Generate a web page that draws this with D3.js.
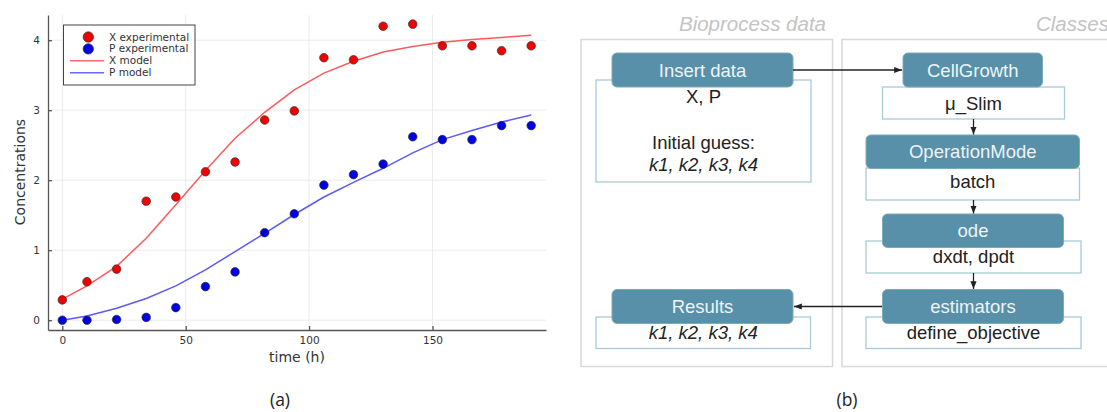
<!DOCTYPE html>
<html>
<head>
<meta charset="utf-8">
<script src="https://cdn.jsdelivr.net/npm/d3@7"></script>
<style>
  body { margin: 0; background: #fff; }
  svg text { font-family: "DejaVu Sans", sans-serif; }
  .axis path, .axis line { stroke: #555; stroke-width: 1.3; }
  .axis text { font-size: 10.5px; fill: #333; font-family: "DejaVu Sans", sans-serif; }
  .diag text { font-family: "Liberation Sans", Arial, sans-serif; font-size: 18.5px; }
</style>
</head>
<body>
<div class="root"></div>
<script>
// fitted data
const time = [0, 10, 22, 34, 46, 58, 70, 82, 94, 106, 118, 130, 142, 154, 166, 178, 190];
const xExp = [0.29, 0.55, 0.73, 1.70, 1.76, 2.12, 2.26, 2.86, 2.99, 3.75, 3.72, 4.20, 4.23, 3.92, 3.92, 3.85, 3.92];
const pExp = [0.0, 0.0, 0.01, 0.04, 0.18, 0.48, 0.69, 1.25, 1.52, 1.93, 2.08, 2.23, 2.62, 2.58, 2.58, 2.78, 2.78];
const xModel = [0.30, 0.49, 0.77, 1.17, 1.65, 2.14, 2.60, 2.97, 3.29, 3.53, 3.70, 3.83, 3.91, 3.97, 4.01, 4.04, 4.07];
const pModel = [0.0, 0.06, 0.17, 0.31, 0.49, 0.72, 0.98, 1.24, 1.51, 1.76, 1.97, 2.17, 2.39, 2.58, 2.71, 2.83, 2.93];
const xTicks = [0, 50, 100, 150];
const yTicks = [0, 1, 2, 3, 4];
const legendLabels = ["X experimental", "P experimental", "X model", "P model"];

// diagram text
const headers = ["Insert data", "Results", "CellGrowth", "OperationMode", "ode", "estimators"];
const subText = [["X, P", "", "Initial guess:", "k1, k2, k3, k4"], ["k1, k2, k3, k4"], ["μ_Slim"], ["batch"], ["dxdt, dpdt"], ["define_objective"]];
const italicLines = ["k1, k2, k3, k4"];

const w = 1107;
const h = 412;
const svg = d3.select(".root")
              .append("svg")
              .attr("width", w)
              .attr("height", h);

// ---------- (a) chart ----------
const xScale = d3.scaleLinear().domain([-5.8, 196]).range([48, 546]);
const yScale = d3.scaleLinear().domain([-0.14, 4.36]).range([330, 15]);

// grid
svg.append("g").selectAll("line")
   .data(xTicks).enter().append("line")
   .attr("x1", d => xScale(d)).attr("x2", d => xScale(d))
   .attr("y1", 15).attr("y2", 330)
   .attr("stroke", "#ececec").attr("stroke-width", 1);
svg.append("g").selectAll("line")
   .data(yTicks).enter().append("line")
   .attr("x1", 48).attr("x2", 546)
   .attr("y1", d => yScale(d)).attr("y2", d => yScale(d))
   .attr("stroke", "#ececec").attr("stroke-width", 1);

svg.append("g")
   .attr("class", "axis")
   .attr("transform", "translate(0,330)")
   .call(d3.axisBottom(xScale).tickValues(xTicks).tickFormat(d3.format("d"))
           .tickSize(-4).tickSizeOuter(0).tickPadding(7));

svg.append("g")
   .attr("class", "axis")
   .attr("transform", "translate(48,0)")
   .call(d3.axisLeft(yScale).tickValues(yTicks).tickFormat(d3.format("d"))
           .tickSize(-4).tickSizeOuter(0).tickPadding(8));

// model lines
const line = (vals) => d3.line()
  .x((d, i) => xScale(time[i]))
  .y(d => yScale(d))(vals);

svg.append("path").attr("d", line(xModel))
   .attr("fill", "none").attr("stroke", "#ff5a5a").attr("stroke-width", 1.5);
svg.append("path").attr("d", line(pModel))
   .attr("fill", "none").attr("stroke", "#5a5aff").attr("stroke-width", 1.5);

// experimental points
function points(vals, color) {
  svg.append("g").selectAll("circle")
     .data(vals).enter().append("circle")
     .attr("cx", (d, i) => xScale(time[i]))
     .attr("cy", d => yScale(d))
     .attr("r", 4.3)
     .attr("fill", color)
     .attr("stroke", "#333")
     .attr("stroke-width", 0.7);
}
points(xExp, "#f00000");
points(pExp, "#0000e6");

// legend
const legend = svg.append("g");
legend.append("rect")
      .attr("x", 63.5).attr("y", 25).attr("width", 131.5).attr("height", 60)
      .attr("fill", "#fff").attr("stroke", "#444").attr("stroke-width", 1);
const legendColors = ["#f00000", "#0000e6", "#ff6a6a", "#6a6aff"];
legendLabels.forEach((lab, i) => {
  const by = 40.5 + i * 11.9;
  if (i < 2) {
    legend.append("circle").attr("cx", 88.3).attr("cy", by - 3.5).attr("r", 5.2)
          .attr("fill", legendColors[i]).attr("stroke", "#333").attr("stroke-width", 0.7);
  } else {
    legend.append("line").attr("x1", 70).attr("x2", 104).attr("y1", by - 3.5).attr("y2", by - 3.5)
          .attr("stroke", legendColors[i]).attr("stroke-width", 1.5);
  }
  legend.append("text").attr("x", 109).attr("y", by)
        .style("font-size", "10.5px").style("fill", "#333").text(lab);
});

// axis labels
svg.append("text")
   .attr("text-anchor", "middle")
   .attr("transform", "translate(24.5,172)rotate(-90)")
   .style("font-size", "14px").style("fill", "#333")
   .text("Concentrations");
svg.append("text")
   .attr("x", 297).attr("y", 362)
   .attr("text-anchor", "middle")
   .style("font-size", "14px").style("fill", "#333")
   .text("time (h)");

// captions
svg.append("text").attr("x", 280).attr("y", 406).attr("text-anchor", "middle")
   .style("font-family", "'Open Sans', sans-serif").style("font-size", "17.5px").style("fill", "#222").text("(a)");
svg.append("text").attr("x", 847).attr("y", 406).attr("text-anchor", "middle")
   .style("font-family", "'Open Sans', sans-serif").style("font-size", "17.5px").style("fill", "#222").text("(b)");

// ---------- (b) diagram ----------
const diag = svg.append("g").attr("class", "diag");

diag.append("defs").append("marker")
    .attr("id", "arrow").attr("viewBox", "0 0 10 10")
    .attr("refX", 10).attr("refY", 5)
    .attr("markerWidth", 6).attr("markerHeight", 6)
    .attr("orient", "auto")
    .append("path").attr("d", "M0,1L10,5L0,9Z").attr("fill", "#222");

// panels
diag.append("rect").attr("x", 581).attr("y", 39.5).attr("width", 251.5).attr("height", 327)
    .attr("fill", "none").attr("stroke", "#d8d8d8").attr("stroke-width", 1.5);
diag.append("rect").attr("x", 842).attr("y", 39.5).attr("width", 300).attr("height", 327)
    .attr("fill", "none").attr("stroke", "#d8d8d8").attr("stroke-width", 1.5);
diag.append("text").attr("x", 826).attr("y", 31).attr("text-anchor", "end")
    .style("font-size", "20.5px").style("font-style", "italic").style("fill", "#c4c4c4").text("Bioprocess data");
diag.append("text").attr("x", 1036).attr("y", 31)
    .style("font-size", "20.5px").style("font-style", "italic").style("fill", "#c4c4c4").text("Classes");

// node layout: header box, sub box, baselines
const layout = [
  {hx: 612, hy: 53, hw: 181, hh: 34, hb: 76.7, sx: 596, sy: 80, sw: 215, sh: 102, sb: [103, 0, 148.5, 171]},
  {hx: 612, hy: 289.5, hw: 181, hh: 34, hb: 313, sx: 596, sy: 317, sw: 214.5, sh: 31.5, sb: [339]},
  {hx: 903, hy: 53, hw: 139.5, hh: 34, hb: 76.7, sx: 882.5, sy: 87, sw: 182, sh: 32, sb: [110]},
  {hx: 866, hy: 135, hw: 213.5, hh: 33.5, hb: 158.3, sx: 866, sy: 168, sw: 213.5, sh: 32, sb: [188.3]},
  {hx: 882.5, hy: 214, hw: 181, hh: 33.5, hb: 236.7, sx: 866, sy: 241, sw: 215, sh: 32, sb: [263.3]},
  {hx: 882.5, hy: 289.5, hw: 181, hh: 34, hb: 313.3, sx: 866, sy: 317, sw: 215, sh: 31.5, sb: [339.3]}
];

headers.forEach((name, i) => {
  const L = layout[i];
  diag.append("rect").attr("x", L.sx).attr("y", L.sy).attr("width", L.sw).attr("height", L.sh)
      .attr("fill", "#fff").attr("stroke", "#a9cbd8").attr("stroke-width", 1.3);
  diag.append("rect").attr("x", L.hx).attr("y", L.hy).attr("width", L.hw).attr("height", L.hh)
      .attr("rx", 5).attr("ry", 5)
      .attr("fill", "#5790a8").attr("stroke", "#7aaabd").attr("stroke-width", 1);
  diag.append("text").attr("x", L.hx + L.hw / 2).attr("y", L.hb).attr("text-anchor", "middle")
      .style("fill", "#eef4f7").text(name);
  subText[i].forEach((t, j) => {
    if (!t) return;
    diag.append("text").attr("x", L.sx + L.sw / 2).attr("y", L.sb[j]).attr("text-anchor", "middle")
        .style("fill", "#222")
        .style("font-style", italicLines.includes(t) ? "italic" : "normal")
        .text(t);
  });
});

// arrows
const arrows = [
  [[793, 70], [902, 70]],
  [[973.5, 119], [973.5, 134.5]],
  [[973.5, 200], [973.5, 213.5]],
  [[973.5, 273], [973.5, 289]],
  [[882, 306.5], [794, 306.5]]
];
arrows.forEach(a => {
  diag.append("line")
      .attr("x1", a[0][0]).attr("y1", a[0][1]).attr("x2", a[1][0]).attr("y2", a[1][1])
      .attr("stroke", "#222").attr("stroke-width", 1.3)
      .attr("marker-end", "url(#arrow)");
});
</script>
</body>
</html>
